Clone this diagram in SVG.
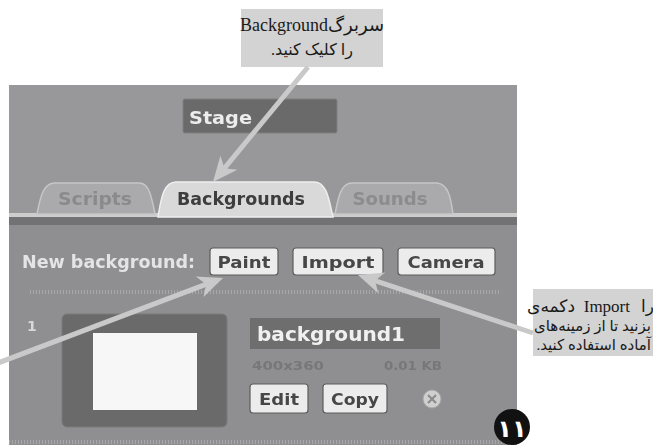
<svg xmlns="http://www.w3.org/2000/svg" width="653" height="445" viewBox="0 0 653 445">
  <defs>
    <style>
      .ui{font-family:"DejaVu Sans","Liberation Sans",sans-serif;font-weight:bold}
      .note{font-family:"Liberation Serif","DejaVu Sans",serif;fill:#1a1a1a}
      .box{fill:#d3d3d3}
      .btn{fill:#ececec;stroke:#5c5c5c;stroke-width:1.2}
      .btntx{font-size:16px;fill:#474747;text-anchor:middle}
      .tab{fill:#aaaaac;stroke:#c6c6c6;stroke-width:1.5}
      .dots{stroke:#a8a8aa;stroke-width:4;stroke-dasharray:1 2}
      .arrow{stroke:#c9c9c9;stroke-width:5;fill:none;marker-end:url(#head)}
    </style>
    <marker id="head" markerUnits="userSpaceOnUse" markerWidth="28" markerHeight="26" viewBox="-26 -13 28 26" refX="-12" refY="0" orient="auto">
      <path d="M0,0 L-25,-11 L-18,0 L-25,11 Z" fill="#c9c9c9"/>
    </marker>
    <filter id="soft" x="-5%" y="-5%" width="110%" height="110%">
      <feGaussianBlur stdDeviation="0.45"/>
    </filter>
  </defs>

  <rect width="653" height="445" fill="#ffffff"/>

  <!-- Scratch stage panel -->
  <g id="panel" filter="url(#soft)">
    <rect x="9" y="85" width="508" height="360" fill="#98989a"/>
    <rect x="9" y="225" width="508" height="220" fill="#8f8f91"/>
    <rect x="9" y="213" width="508" height="4" fill="#cdcdcd"/>
    <rect x="9" y="217" width="508" height="8" fill="#727274"/>

    <g id="stage-name">
      <rect x="183" y="99" width="154" height="34" rx="2" fill="#6a6a6a" stroke="#7e7e7e"/>
      <text class="ui" x="189" y="124" font-size="18" fill="#ececec" textLength="63" lengthAdjust="spacingAndGlyphs">Stage</text>
    </g>

    <g id="tab-scripts">
      <path class="tab" d="M37,214 C40,200 42,184 54,183 L140,183 C150,184 152,200 155,214 Z"/>
      <text class="ui" x="95" y="205" font-size="17" fill="#8a8a8a" text-anchor="middle" textLength="74" lengthAdjust="spacingAndGlyphs">Scripts</text>
    </g>
    <g id="tab-sounds">
      <path class="tab" d="M335,214 C338,200 340,183 352,183 L437,183 C449,184 451,200 453,214 Z"/>
      <text class="ui" x="390" y="205" font-size="17" fill="#8c8c8c" text-anchor="middle" textLength="75" lengthAdjust="spacingAndGlyphs">Sounds</text>
    </g>
    <g id="tab-backgrounds">
      <path d="M158,217 C161,200 163,182 176,182 L314,182 C327,182 329,200 333,217 Z" fill="#d9d9d9" stroke="#eeeeee" stroke-width="1.5"/>
      <text class="ui" x="241" y="205" font-size="18" fill="#3c3c3c" text-anchor="middle" textLength="128" lengthAdjust="spacingAndGlyphs">Backgrounds</text>
    </g>

    <text class="ui" x="22" y="268" font-size="17" fill="#e4e4e4" textLength="173" lengthAdjust="spacingAndGlyphs">New background:</text>

    <g id="btn-paint">
      <rect class="btn" x="210" y="248" width="68" height="27" rx="3"/>
      <text class="ui btntx" x="244" y="268" textLength="53" lengthAdjust="spacingAndGlyphs">Paint</text>
    </g>
    <g id="btn-import">
      <rect class="btn" x="293" y="248" width="90" height="27" rx="3"/>
      <text class="ui btntx" x="338" y="268" textLength="73" lengthAdjust="spacingAndGlyphs">Import</text>
    </g>
    <g id="btn-camera">
      <rect class="btn" x="398" y="248" width="97" height="27" rx="3"/>
      <text class="ui btntx" x="446" y="268" fill="#6a6a6a" textLength="77" lengthAdjust="spacingAndGlyphs">Camera</text>
    </g>

    <line class="dots" x1="30" y1="292" x2="500" y2="292"/>
    <line class="dots" x1="9" y1="442" x2="517" y2="442"/>

    <g id="costume-1">
      <text class="ui" x="27" y="331" font-size="14" fill="#d8d8d8">1</text>
      <rect x="62" y="314" width="165" height="113" rx="5" fill="#6b6b6b" stroke="#7a7a7a"/>
      <rect x="93" y="333" width="104" height="77" fill="#f7f7f7"/>
      <rect x="250" y="318" width="190" height="31" fill="#6e6e6e"/>
      <text class="ui" x="257" y="341" font-size="19" fill="#f0f0f0" textLength="148" lengthAdjust="spacingAndGlyphs">background1</text>
      <text class="ui" x="252" y="370" font-size="13" font-weight="normal" fill="#777779" textLength="72" lengthAdjust="spacingAndGlyphs">400x360</text>
      <text class="ui" x="442" y="370" font-size="13" font-weight="normal" fill="#777779" text-anchor="end" textLength="58" lengthAdjust="spacingAndGlyphs">0.01 KB</text>
      <rect class="btn" x="250" y="384" width="58" height="29" rx="3"/>
      <text class="ui btntx" x="279" y="405" textLength="40" lengthAdjust="spacingAndGlyphs">Edit</text>
      <rect class="btn" x="323" y="384" width="64" height="29" rx="3"/>
      <text class="ui btntx" x="355" y="405" textLength="48" lengthAdjust="spacingAndGlyphs">Copy</text>
      <circle cx="432" cy="399" r="9" fill="#cfcfcf" stroke="#a6a6a6"/>
      <path d="M428,395 L436,403 M436,395 L428,403" stroke="#8a8a8a" stroke-width="2"/>
    </g>
  </g>

  <!-- step badge -->
  <g id="step-badge">
    <circle cx="512" cy="427" r="18" fill="#111111"/>
    <text x="512" y="437" font-family="DejaVu Sans, sans-serif" font-weight="bold" font-size="24" fill="#ffffff" text-anchor="middle">۱۱</text>
  </g>

  <!-- callout: tab -->
  <g id="note-tab">
    <rect class="box" x="241" y="9" width="142" height="58"/>
    <text class="note" x="312" y="31" font-size="18" text-anchor="middle" direction="rtl">سربرگBackground</text>
    <text class="note" x="312" y="55" font-size="16" text-anchor="middle" direction="rtl">را کلیک کنید.</text>
  </g>

  <!-- callout: import (first line set word by word so its order stays fixed) -->
  <g id="note-import">
    <rect class="box" x="533" y="289" width="120" height="67"/>
    <text class="note" x="575" y="312" font-size="17" text-anchor="end">دکمه‌ی</text>
    <text class="note" x="630" y="312" font-size="17" text-anchor="end">Import</text>
    <text class="note" x="654" y="312" font-size="17" text-anchor="end">را</text>
    <text class="note" x="651" y="331" font-size="15" text-anchor="end">بزنید تا از زمینه‌های</text>
    <text class="note" x="651" y="350" font-size="15" text-anchor="end">آماده استفاده کنید.&#x200F;</text>
  </g>

  <!-- connectors -->
  <g id="connectors">
    <line class="arrow" x1="308" y1="67" x2="220.6" y2="172.8"/>
    <line class="arrow" x1="-2" y1="363" x2="211.8" y2="282.2"/>
    <line class="arrow" x1="533" y1="333" x2="369.4" y2="278.8"/>
  </g>
</svg>
